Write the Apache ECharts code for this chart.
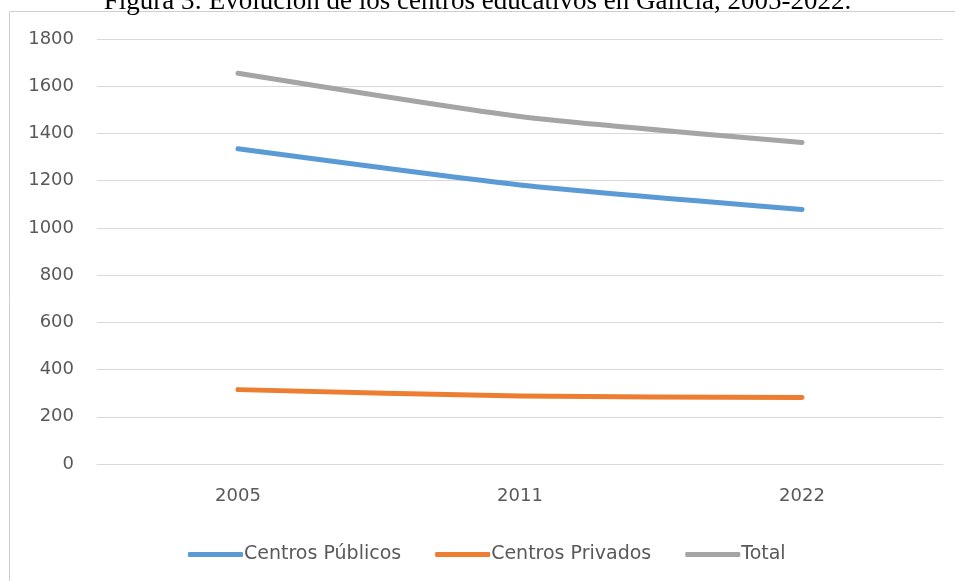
<!DOCTYPE html>
<html>
<head>
<meta charset="utf-8">
<script src="https://cdn.jsdelivr.net/npm/echarts@6/dist/echarts.min.js"></script>
<style>
html,body{margin:0;padding:0;background:#fff;}
#c{width:955px;height:581px;}
</style>
</head>
<body>
<div id="c"></div>
<script>
var titleText = 'Figura 3: Evolución de los centros educativos en Galicia, 2005-2022.';
var years = ['2005', '2011', '2022'];
var seriesNames = ['Centros Públicos', 'Centros Privados', 'Total'];
var publicos = [1335, 1182, 1078];
var privados = [315, 288, 282];
var total = [1655, 1472, 1362];
var yTicks = {min: 0, max: 1800, interval: 200};

var colors = ['#5B9BD5', '#ED7D31', '#A5A5A5'];
var chart = echarts.init(document.getElementById('c'), null, {renderer: 'canvas'});
function mk(name, data, color) {
  return {
    name: name, type: 'line', data: data, smooth: 0.2,
    symbol: 'none', color: color,
    lineStyle: {width: 5, color: color, cap: 'round', join: 'round'},
    emphasis: {disabled: true}
  };
}
chart.setOption({
  animation: false,
  backgroundColor: '#fff',
  title: {
    text: titleText, left: 'center', top: -17,
    textStyle: {fontFamily: 'Liberation Serif', fontSize: 27, fontWeight: 'normal', color: '#000'}
  },
  graphic: [{
    type: 'rect', z: -1,
    shape: {x: 9.5, y: 11.5, width: 960, height: 600},
    style: {fill: 'none', stroke: '#cfcfcf', lineWidth: 1}
  }],
  grid: {left: 97, right: 12, top: 39, bottom: 117},
  legend: {
    data: seriesNames, left: 183, top: 540,
    itemWidth: 55, itemHeight: 5, itemGap: 34, icon: 'roundRect',
    textStyle: {fontFamily: 'DejaVu Sans', fontSize: 19, color: '#595959', padding: [0, 0, 0, -4]}
  },
  xAxis: {
    type: 'category', data: years, boundaryGap: true,
    axisLine: {lineStyle: {color: '#d9d9d9', width: 1}},
    axisTick: {show: false},
    axisLabel: {fontFamily: 'DejaVu Sans', fontSize: 18, color: '#595959', margin: 23}
  },
  yAxis: {
    type: 'value', min: yTicks.min, max: yTicks.max, interval: yTicks.interval,
    axisLine: {show: false}, axisTick: {show: false},
    splitLine: {lineStyle: {color: '#d9d9d9', width: 1}},
    axisLabel: {fontFamily: 'DejaVu Sans', fontSize: 18, color: '#595959', margin: 23,
      formatter: function (v) { return String(v); }}
  },
  series: [
    mk(seriesNames[0], publicos, colors[0]),
    mk(seriesNames[1], privados, colors[1]),
    mk(seriesNames[2], total, colors[2])
  ]
});
</script>
</body>
</html>
